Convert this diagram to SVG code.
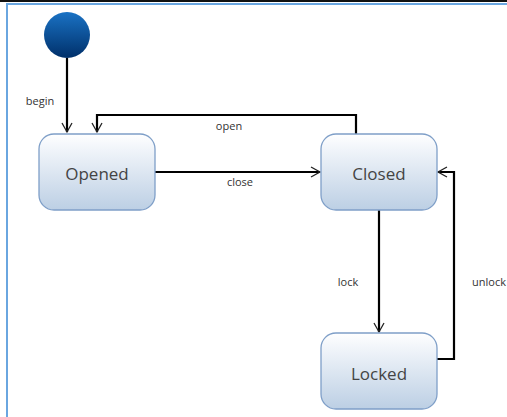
<svg xmlns="http://www.w3.org/2000/svg" width="507" height="417" viewBox="0 0 507 417">
<defs>
<linearGradient id="startG" x1="0" y1="0" x2="0" y2="1">
<stop offset="0" stop-color="#1a72c4"/>
<stop offset="1" stop-color="#00306a"/>
</linearGradient>
<linearGradient id="nodeG" x1="0" y1="0" x2="0" y2="1">
<stop offset="0" stop-color="#ffffff"/>
<stop offset="0.15" stop-color="#f4f7fb"/>
<stop offset="1" stop-color="#bccfe4"/>
</linearGradient>
<marker id="arr" markerWidth="12" markerHeight="12" refX="10" refY="6" orient="auto" markerUnits="userSpaceOnUse">
<path d="M1,1 L10,6 L1,11" fill="none" stroke="#222" stroke-width="1.3"/>
</marker>
<style>
.node{fill:url(#nodeG);stroke:#7f9fc8;stroke-width:1.3}
.nl{font-family:"Open Sans","Noto Sans",sans-serif;font-size:17px;fill:#444;text-anchor:middle}
.el{font-family:"Open Sans","Noto Sans",sans-serif;font-size:11px;fill:#333;text-anchor:middle}
.edge{fill:none;stroke:#000;stroke-width:2.2;marker-end:url(#arr)}
</style>
</defs>
<rect x="0" y="0" width="507" height="417" fill="#fff"/>
<line x1="0" y1="1" x2="507" y2="1" stroke="#111" stroke-width="2"/>
<line x1="6" y1="4" x2="507" y2="4" stroke="#6aa6e0" stroke-width="2"/>
<line x1="7" y1="3" x2="7" y2="417" stroke="#6aa6e0" stroke-width="2"/>
<g id="connectors">
<path class="edge" d="M67,58 L67,132"/>
<path class="edge" d="M356,134 L356,115 L97,115 L97,132"/>
<path class="edge" d="M155,172 L320,172"/>
<path class="edge" d="M379,210 L379,332"/>
<path class="edge" d="M437,359 L454,359 L454,172 L438,172"/>
<text class="el" x="40" y="105">begin</text>
<text class="el" x="229" y="130">open</text>
<text class="el" x="240" y="186">close</text>
<text class="el" x="348" y="286">lock</text>
<text class="el" x="489" y="286">unlock</text>
</g>
<g id="start">
<circle cx="67" cy="35" r="23" fill="url(#startG)"/>
</g>
<g id="opened">
<rect class="node" x="39" y="134" width="116" height="76" rx="15"/>
<text class="nl" x="97" y="180">Opened</text>
</g>
<g id="closed">
<rect class="node" x="321" y="134" width="116" height="76" rx="15"/>
<text class="nl" x="379" y="180">Closed</text>
</g>
<g id="locked">
<rect class="node" x="321" y="333" width="116" height="76" rx="15"/>
<text class="nl" x="379" y="380">Locked</text>
</g>
</svg>
